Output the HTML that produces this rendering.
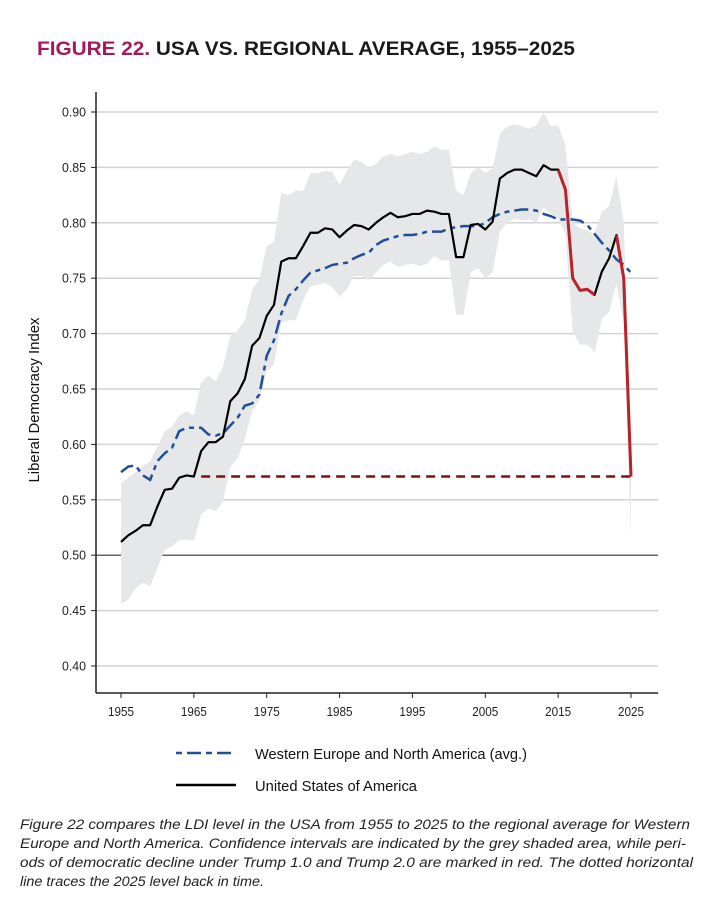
<!DOCTYPE html>
<html><head><meta charset="utf-8"><style>
body{margin:0;background:#fff;width:702px;height:910px;overflow:hidden;font-family:"Liberation Sans",sans-serif}
svg{position:absolute;left:0;top:0}
</style></head><body>
<svg id="chart" width="702" height="910" xmlns="http://www.w3.org/2000/svg">
<text x="37" y="55" font-size="19.5" font-weight="bold" font-family="Liberation Sans, sans-serif" textLength="538" lengthAdjust="spacingAndGlyphs"><tspan fill="#a3195b">FIGURE 22.</tspan><tspan fill="#1a1a1a"> USA VS. REGIONAL AVERAGE, 1955–2025</tspan></text>
<g id="grid"></g><g id="band"></g><g id="lines"></g><g id="axes"></g>
<text transform="translate(39,400) rotate(-90)" text-anchor="middle" font-size="14.5" fill="#111" textLength="165" lengthAdjust="spacingAndGlyphs">Liberal Democracy Index</text>
<g>
<line x1="176" y1="753" x2="236" y2="753" stroke="#1f4e9c" stroke-width="2.5" stroke-dasharray="6,5,14,5"/>
<text x="255" y="759" font-size="15" fill="#111" textLength="272" lengthAdjust="spacingAndGlyphs">Western Europe and North America (avg.)</text>
<line x1="176" y1="785" x2="236" y2="785" stroke="#000" stroke-width="2.5"/>
<text x="255" y="791" font-size="15" fill="#111" textLength="162" lengthAdjust="spacingAndGlyphs">United States of America</text>
</g>
<g font-size="14.2" font-style="italic" fill="#222">
<text x="20" y="829" textLength="670" lengthAdjust="spacingAndGlyphs">Figure 22 compares the LDI level in the USA from 1955 to 2025 to the regional average for Western</text>
<text x="20" y="848" textLength="666" lengthAdjust="spacingAndGlyphs">Europe and North America. Confidence intervals are indicated by the grey shaded area, while peri-</text>
<text x="20" y="867" textLength="673" lengthAdjust="spacingAndGlyphs">ods of democratic decline under Trump 1.0 and Trump 2.0 are marked in red. The dotted horizontal</text>
<text x="20" y="886" textLength="244" lengthAdjust="spacingAndGlyphs">line traces the 2025 level back in time.</text>
</g>
</svg>
<script>
const years=[];for(let y=1955;y<=2025;y++)years.push(y);
const usa=[.512,.518,.522,.527,.527,.544,.559,.560,.570,.572,.571,.594,.602,.602,.607,.639,.646,.659,.689,.696,.716,.726,.765,.768,.768,.779,.791,.791,.795,.794,.787,.793,.798,.797,.794,.800,.805,.809,.805,.806,.808,.808,.811,.810,.808,.808,.769,.769,.798,.799,.794,.801,.840,.845,.848,.848,.845,.842,.852,.848,.848,.830,.750,.739,.740,.735,.756,.768,.789,.750,.571];
const region=[.575,.580,.581,.572,.568,.585,.592,.597,.612,.615,.615,.615,.609,.608,.610,.617,.624,.635,.637,.645,.680,.694,.718,.734,.740,.748,.755,.757,.759,.762,.763,.764,.768,.771,.773,.780,.784,.786,.788,.789,.789,.790,.792,.792,.792,.795,.796,.797,.797,.797,.800,.805,.808,.810,.811,.812,.812,.811,.808,.806,.803,.803,.803,.802,.798,.790,.782,.775,.767,.762,.755];
const upper=[.565,.570,.575,.580,.585,.598,.612,.616,.626,.630,.626,.656,.662,.657,.670,.698,.703,.712,.740,.749,.779,.783,.827,.825,.829,.829,.845,.845,.847,.846,.834,.847,.857,.855,.850,.853,.860,.862,.860,.862,.864,.862,.864,.869,.866,.866,.829,.825,.845,.850,.845,.849,.880,.887,.889,.887,.885,.888,.900,.887,.888,.870,.800,.795,.793,.790,.810,.815,.842,.800,.600];
const lower=[.456,.460,.470,.475,.472,.488,.505,.508,.514,.514,.513,.537,.542,.540,.548,.580,.587,.605,.630,.640,.666,.672,.710,.712,.712,.730,.743,.744,.746,.742,.733,.740,.752,.752,.748,.755,.762,.765,.760,.762,.763,.761,.763,.770,.766,.766,.717,.717,.755,.759,.750,.755,.792,.800,.804,.802,.803,.800,.814,.808,.804,.790,.702,.690,.690,.683,.713,.720,.745,.710,.515];
const yTicks=[0.40,0.45,0.50,0.55,0.60,0.65,0.70,0.75,0.80,0.85,0.90];
const xTicks=[1955,1965,1975,1985,1995,2005,2015,2025];
const declinePeriods=[[2015,2020],[2023,2025]];
const refYear=1966, refValue=usa[usa.length-1];

const X=y=>121+(y-1955)*(510/70);
const Y=v=>666-(v-0.40)*(554/0.5);
const NS='http://www.w3.org/2000/svg';
function mk(tag,attrs,parent){const e=document.createElementNS(NS,tag);for(const k in attrs)e.setAttribute(k,attrs[k]);parent.appendChild(e);return e;}
const grid=document.getElementById('grid'),band=document.getElementById('band'),lines=document.getElementById('lines'),axes=document.getElementById('axes');
yTicks.forEach(v=>{
  const l=mk('line',{x1:96,x2:658,y1:Y(v),y2:Y(v),stroke:v===0.5?'#333':'#d2d2d2','stroke-width':v===0.5?1.2:1.5},grid);
  
  
  const t=mk('text',{x:86,y:Y(v)+4.5,'text-anchor':'end','font-size':12.5,fill:'#222',textLength:24,lengthAdjust:'spacingAndGlyphs'},axes);
  t.textContent=v.toFixed(2);
  
  
  const tk=mk('line',{x1:91,x2:96,y1:Y(v),y2:Y(v),stroke:'#222','stroke-width':1},axes);
  
  
});
let d='M'+years.map((y,i)=>X(y)+','+Y(upper[i])).join('L');
for(let i=years.length-1;i>=0;i--)d+='L'+X(years[i])+','+Y(lower[i]);
const b=mk('path',{d:d+'Z',fill:'#e6e7e8'},band);


const ref=mk('line',{x1:X(refYear),x2:X(2025),y1:Y(refValue),y2:Y(refValue),stroke:'#7a1212','stroke-width':2.5,'stroke-dasharray':'9,6'},lines);


const rp=mk('polyline',{points:years.map((y,i)=>X(y)+','+Y(region[i])).join(' '),fill:'none',stroke:'#1f4e9c','stroke-width':2.5,'stroke-dasharray':'14,5,5,5'},lines);


const up=mk('polyline',{points:years.map((y,i)=>X(y)+','+Y(usa[i])).join(' '),fill:'none',stroke:'#000','stroke-width':2.2,'stroke-linejoin':'round'},lines);


declinePeriods.forEach(p=>{
  const pts=[];years.forEach((y,i)=>{if(y>=p[0]&&y<=p[1])pts.push(X(y)+','+Y(usa[i]));});
  const r=mk('polyline',{points:pts.join(' '),fill:'none',stroke:'#b8232a','stroke-width':3,'stroke-linejoin':'round'},lines);
  
  
});
const ya=mk('line',{x1:96,x2:96,y1:92,y2:693,stroke:'#222','stroke-width':1.5},axes);


const xa=mk('line',{x1:96,x2:658,y1:693,y2:693,stroke:'#222','stroke-width':1.5},axes);


xTicks.forEach(y=>{
  const tk=mk('line',{x1:X(y),x2:X(y),y1:693,y2:698,stroke:'#222','stroke-width':1},axes);
  
  
  const t=mk('text',{x:X(y),y:716,'text-anchor':'middle','font-size':12.5,fill:'#222',textLength:26,lengthAdjust:'spacingAndGlyphs'},axes);
  t.textContent=y;
  
  
});
</script>
</body></html>
